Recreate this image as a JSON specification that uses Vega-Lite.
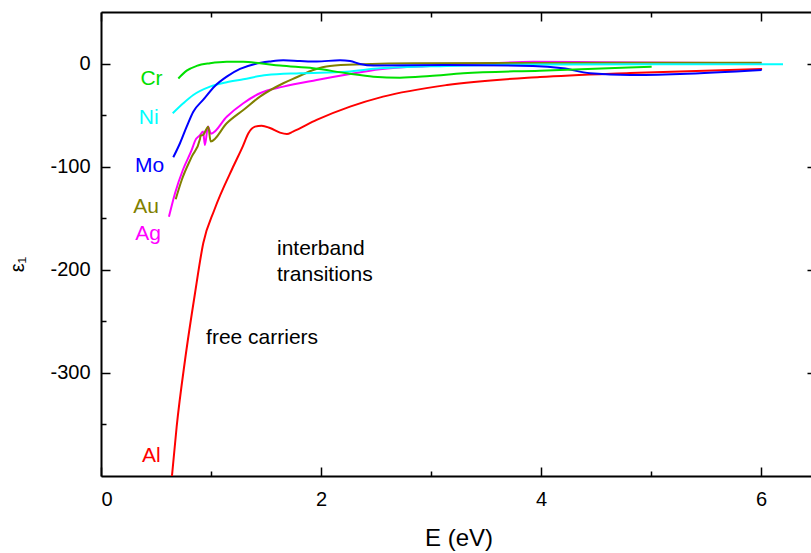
{
  "$schema": "https://vega.github.io/schema/vega-lite/v6.json",
  "width": 715,
  "height": 464,
  "autosize": {"type": "none"},
  "padding": {"left": 101, "top": 12, "right": -5, "bottom": 77},
  "config": {
    "view": {"stroke": null},
    "font": "Liberation Sans",
    "axis": {
      "grid": false,
      "domainColor": "black",
      "domainWidth": 2,
      "tickColor": "black",
      "tickWidth": 1.5,
      "labelFont": "Liberation Sans",
      "labelFontSize": 20,
      "labelColor": "black",
      "titleFont": "Liberation Sans",
      "titleFontWeight": "normal",
      "titleColor": "black"
    }
  },
  "datasets": {
    "eps": [
      {"metal": "Al", "E": 0.645, "eps1": -400},
      {"metal": "Al", "E": 0.688, "eps1": -352},
      {"metal": "Al", "E": 0.764, "eps1": -287.5},
      {"metal": "Al", "E": 0.855, "eps1": -222.5},
      {"metal": "Al", "E": 0.93, "eps1": -174},
      {"metal": "Al", "E": 1.03, "eps1": -142},
      {"metal": "Al", "E": 1.209, "eps1": -98.4},
      {"metal": "Al", "E": 1.29, "eps1": -80},
      {"metal": "Al", "E": 1.34, "eps1": -67.6},
      {"metal": "Al", "E": 1.4, "eps1": -61.2},
      {"metal": "Al", "E": 1.46, "eps1": -60.2},
      {"metal": "Al", "E": 1.536, "eps1": -62.5},
      {"metal": "Al", "E": 1.627, "eps1": -67},
      {"metal": "Al", "E": 1.69, "eps1": -68.3},
      {"metal": "Al", "E": 1.745, "eps1": -66},
      {"metal": "Al", "E": 1.96, "eps1": -54.7},
      {"metal": "Al", "E": 2.264, "eps1": -41.8},
      {"metal": "Al", "E": 2.564, "eps1": -32.1},
      {"metal": "Al", "E": 3.145, "eps1": -20.8},
      {"metal": "Al", "E": 3.99, "eps1": -13},
      {"metal": "Al", "E": 4.81, "eps1": -9.1},
      {"metal": "Al", "E": 6.01, "eps1": -5.2},

      {"metal": "Ag", "E": 0.618, "eps1": -148.5},
      {"metal": "Ag", "E": 0.673, "eps1": -125.8},
      {"metal": "Ag", "E": 0.745, "eps1": -103},
      {"metal": "Ag", "E": 0.82, "eps1": -85},
      {"metal": "Ag", "E": 0.865, "eps1": -73},
      {"metal": "Ag", "E": 0.895, "eps1": -70},
      {"metal": "Ag", "E": 0.928, "eps1": -66},
      {"metal": "Ag", "E": 0.945, "eps1": -79},
      {"metal": "Ag", "E": 0.972, "eps1": -61},
      {"metal": "Ag", "E": 1.0, "eps1": -68},
      {"metal": "Ag", "E": 1.143, "eps1": -51.5},
      {"metal": "Ag", "E": 1.294, "eps1": -38.5},
      {"metal": "Ag", "E": 1.445, "eps1": -28.8},
      {"metal": "Ag", "E": 1.657, "eps1": -22.4},
      {"metal": "Ag", "E": 1.961, "eps1": -15.9},
      {"metal": "Ag", "E": 2.264, "eps1": -10.1},
      {"metal": "Ag", "E": 2.536, "eps1": -5.5},
      {"metal": "Ag", "E": 2.99, "eps1": -2.3},
      {"metal": "Ag", "E": 3.445, "eps1": -0.4},
      {"metal": "Ag", "E": 3.93, "eps1": 1.8},
      {"metal": "Ag", "E": 4.536, "eps1": 1.3},
      {"metal": "Ag", "E": 6.006, "eps1": 0.3},

      {"metal": "Au", "E": 0.679, "eps1": -131.6},
      {"metal": "Au", "E": 0.734, "eps1": -112.9},
      {"metal": "Au", "E": 0.825, "eps1": -90.3},
      {"metal": "Au", "E": 0.9, "eps1": -73.1},
      {"metal": "Au", "E": 0.905, "eps1": -70},
      {"metal": "Au", "E": 0.93, "eps1": -69},
      {"metal": "Au", "E": 0.975, "eps1": -61.2},
      {"metal": "Au", "E": 0.997, "eps1": -75.6},
      {"metal": "Au", "E": 1.143, "eps1": -57.9},
      {"metal": "Au", "E": 1.294, "eps1": -45},
      {"metal": "Au", "E": 1.445, "eps1": -32.1},
      {"metal": "Au", "E": 1.657, "eps1": -19.1},
      {"metal": "Au", "E": 1.779, "eps1": -13.3},
      {"metal": "Au", "E": 1.93, "eps1": -6.2},
      {"metal": "Au", "E": 2.082, "eps1": -2.3},
      {"metal": "Au", "E": 2.385, "eps1": -0.7},
      {"metal": "Au", "E": 2.84, "eps1": 0.3},
      {"metal": "Au", "E": 6.006, "eps1": 0.9},

      {"metal": "Ni", "E": 0.652, "eps1": -48.2},
      {"metal": "Ni", "E": 0.748, "eps1": -38.5},
      {"metal": "Ni", "E": 0.839, "eps1": -30.5},
      {"metal": "Ni", "E": 0.991, "eps1": -22.4},
      {"metal": "Ni", "E": 1.143, "eps1": -18.1},
      {"metal": "Ni", "E": 1.294, "eps1": -15.2},
      {"metal": "Ni", "E": 1.506, "eps1": -11.1},
      {"metal": "Ni", "E": 1.809, "eps1": -9.4},
      {"metal": "Ni", "E": 2.234, "eps1": -7.9},
      {"metal": "Ni", "E": 2.536, "eps1": -4.6},
      {"metal": "Ni", "E": 3.143, "eps1": -2.3},
      {"metal": "Ni", "E": 3.99, "eps1": -0.9},
      {"metal": "Ni", "E": 6.2, "eps1": -0.7},

      {"metal": "Mo", "E": 0.657, "eps1": -90.9},
      {"metal": "Mo", "E": 0.718, "eps1": -77.3},
      {"metal": "Mo", "E": 0.779, "eps1": -61.2},
      {"metal": "Mo", "E": 0.839, "eps1": -46.7},
      {"metal": "Mo", "E": 0.93, "eps1": -35},
      {"metal": "Mo", "E": 1.036, "eps1": -21.7},
      {"metal": "Mo", "E": 1.143, "eps1": -12.7},
      {"metal": "Mo", "E": 1.264, "eps1": -5.2},
      {"metal": "Mo", "E": 1.4, "eps1": -0.4},
      {"metal": "Mo", "E": 1.536, "eps1": 2.0},
      {"metal": "Mo", "E": 1.657, "eps1": 3.2},
      {"metal": "Mo", "E": 1.809, "eps1": 2.5},
      {"metal": "Mo", "E": 1.961, "eps1": 2.0},
      {"metal": "Mo", "E": 2.173, "eps1": 3.2},
      {"metal": "Mo", "E": 2.264, "eps1": 2.5},
      {"metal": "Mo", "E": 2.355, "eps1": -0.4},
      {"metal": "Mo", "E": 2.476, "eps1": -2.0},
      {"metal": "Mo", "E": 3.143, "eps1": -1.4},
      {"metal": "Mo", "E": 3.927, "eps1": -2.3},
      {"metal": "Mo", "E": 4.2, "eps1": -4.6},
      {"metal": "Mo", "E": 4.445, "eps1": -9.4},
      {"metal": "Mo", "E": 4.81, "eps1": -11.1},
      {"metal": "Mo", "E": 5.264, "eps1": -10.1},
      {"metal": "Mo", "E": 6.006, "eps1": -6.2},

      {"metal": "Cr", "E": 0.703, "eps1": -14.5},
      {"metal": "Cr", "E": 0.779, "eps1": -6.9},
      {"metal": "Cr", "E": 0.87, "eps1": -2.3},
      {"metal": "Cr", "E": 0.991, "eps1": 0.3},
      {"metal": "Cr", "E": 1.143, "eps1": 1.8},
      {"metal": "Cr", "E": 1.294, "eps1": 1.8},
      {"metal": "Cr", "E": 1.445, "eps1": 0.3},
      {"metal": "Cr", "E": 1.627, "eps1": -2.0},
      {"metal": "Cr", "E": 1.93, "eps1": -4.6},
      {"metal": "Cr", "E": 2.234, "eps1": -9.4},
      {"metal": "Cr", "E": 2.476, "eps1": -12.7},
      {"metal": "Cr", "E": 2.718, "eps1": -13.7},
      {"metal": "Cr", "E": 2.99, "eps1": -12},
      {"metal": "Cr", "E": 3.294, "eps1": -9.4},
      {"metal": "Cr", "E": 3.99, "eps1": -6.9},
      {"metal": "Cr", "E": 5.006, "eps1": -3.0}
    ],
    "labels": [
      {"metal": "Cr", "E": 0.459, "eps1": -20.8},
      {"metal": "Ni", "E": 0.434, "eps1": -58.6},
      {"metal": "Mo", "E": 0.441, "eps1": -104.8},
      {"metal": "Au", "E": 0.409, "eps1": -145.2},
      {"metal": "Ag", "E": 0.427, "eps1": -171},
      {"metal": "Al", "E": 0.458, "eps1": -386.1}
    ],
    "notes": [
      {"note": "interband", "E": 1.6, "eps1": -185.2},
      {"note": "transitions", "E": 1.6, "eps1": -210.9},
      {"note": "free carriers", "E": 0.955, "eps1": -272}
    ]
  },
  "resolve": {"axis": {"x": "independent", "y": "independent"}},
  "layer": [
    {
      "data": {"name": "eps"},
      "mark": {"type": "line", "strokeWidth": 2, "clip": true, "interpolate": "monotone"},
      "encoding": {
        "x": {
          "field": "E", "type": "quantitative",
          "scale": {"domain": [0, 6.5], "nice": false, "zero": false},
          "axis": {"orient": "bottom", "values": [0, 2, 4, 6], "tickSize": -9, "labelPadding": 22,
                   "title": "E (eV)", "titleFontSize": 24, "titlePadding": 17}
        },
        "y": {
          "field": "eps1", "type": "quantitative",
          "scale": {"domain": [-400, 50], "nice": false, "zero": false},
          "axis": {"orient": "left", "values": [-300, -200, -100, 0], "tickSize": -9, "labelPadding": 20,
                   "labelExpr": "replace(datum.label, '−', '-')",
                   "title": "ε₁", "titleFontSize": 20, "titleX": -74, "titleY": 252}
        },
        "color": {
          "field": "metal", "type": "nominal",
          "scale": {"domain": ["Al", "Ag", "Au", "Ni", "Mo", "Cr"],
                    "range": ["#ff0000", "#ff00ff", "#808000", "#00ffff", "#0000ff", "#00e000"]},
          "legend": null
        }
      }
    },
    {
      "data": {"name": "eps"},
      "mark": {"type": "point", "opacity": 0},
      "encoding": {
        "x": {
          "field": "E", "type": "quantitative",
          "scale": {"domain": [0, 6.5], "nice": false, "zero": false},
          "axis": {"orient": "bottom", "values": [1, 3, 5], "tickSize": -5, "labels": false, "domain": false, "title": null}
        },
        "y": {
          "field": "eps1", "type": "quantitative",
          "scale": {"domain": [-400, 50], "nice": false, "zero": false},
          "axis": {"orient": "left", "values": [-350, -250, -150, -50], "tickSize": -5, "labels": false, "domain": false, "title": null}
        }
      }
    },
    {
      "data": {"name": "eps"},
      "mark": {"type": "point", "opacity": 0},
      "encoding": {
        "x": {
          "field": "E", "type": "quantitative",
          "scale": {"domain": [0, 6.5], "nice": false, "zero": false},
          "axis": {"orient": "top", "values": [0, 2, 4, 6], "tickSize": -9, "labels": false, "title": null}
        },
        "y": {
          "field": "eps1", "type": "quantitative",
          "scale": {"domain": [-400, 50], "nice": false, "zero": false},
          "axis": {"orient": "right", "values": [-300, -200, -100, 0], "tickSize": -9, "labels": false, "title": null}
        }
      }
    },
    {
      "data": {"name": "eps"},
      "mark": {"type": "point", "opacity": 0},
      "encoding": {
        "x": {
          "field": "E", "type": "quantitative",
          "scale": {"domain": [0, 6.5], "nice": false, "zero": false},
          "axis": {"orient": "top", "values": [1, 3, 5], "tickSize": -5, "labels": false, "domain": false, "title": null}
        },
        "y": {
          "field": "eps1", "type": "quantitative",
          "scale": {"domain": [-400, 50], "nice": false, "zero": false},
          "axis": {"orient": "right", "values": [-350, -250, -150, -50], "tickSize": -5, "labels": false, "domain": false, "title": null}
        }
      }
    },
    {
      "data": {"name": "labels"},
      "mark": {"type": "text", "fontSize": 21, "align": "center", "baseline": "alphabetic", "font": "Liberation Sans"},
      "encoding": {
        "x": {"field": "E", "type": "quantitative", "scale": {"domain": [0, 6.5], "nice": false, "zero": false}, "axis": null},
        "y": {"field": "eps1", "type": "quantitative", "scale": {"domain": [-400, 50], "nice": false, "zero": false}, "axis": null},
        "text": {"field": "metal"},
        "color": {
          "field": "metal", "type": "nominal",
          "scale": {"domain": ["Al", "Ag", "Au", "Ni", "Mo", "Cr"],
                    "range": ["#ff0000", "#ff00ff", "#808000", "#00ffff", "#0000ff", "#00e000"]},
          "legend": null
        }
      }
    },
    {
      "data": {"name": "notes"},
      "mark": {"type": "text", "fontSize": 21, "align": "left", "baseline": "alphabetic", "font": "Liberation Sans", "color": "black"},
      "encoding": {
        "x": {"field": "E", "type": "quantitative", "scale": {"domain": [0, 6.5], "nice": false, "zero": false}, "axis": null},
        "y": {"field": "eps1", "type": "quantitative", "scale": {"domain": [-400, 50], "nice": false, "zero": false}, "axis": null},
        "text": {"field": "note"}
      }
    }
  ]
}
